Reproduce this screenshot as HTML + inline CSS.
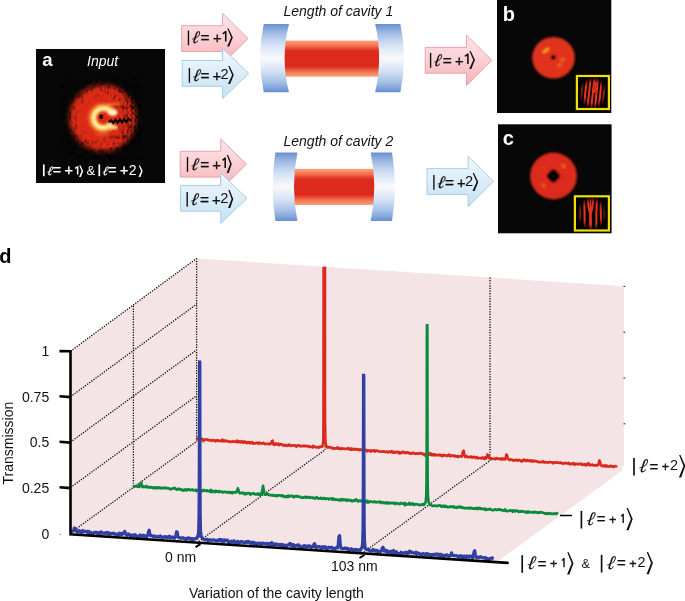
<!DOCTYPE html>
<html><head><meta charset="utf-8">
<style>
html,body{margin:0;padding:0;background:#fff;width:685px;height:601px;overflow:hidden}
svg{display:block;will-change:transform}
svg{font-family:"Liberation Sans",sans-serif}
</style></head>
<body>
<svg width="685" height="601" viewBox="0 0 685 601">

<defs>
  <linearGradient id="gPink" x1="0" y1="0" x2="0" y2="1">
    <stop offset="0" stop-color="#fee6e9"/><stop offset="0.5" stop-color="#fbcfd3"/><stop offset="1" stop-color="#f6b0b5"/>
  </linearGradient>
  <linearGradient id="gBlue" x1="0" y1="0" x2="0" y2="1">
    <stop offset="0" stop-color="#eef7fc"/><stop offset="0.5" stop-color="#dcedf8"/><stop offset="1" stop-color="#c4e1f2"/>
  </linearGradient>
  <linearGradient id="gMirror" x1="0" y1="0" x2="0" y2="1">
    <stop offset="0" stop-color="#6890cf"/><stop offset="0.14" stop-color="#a3bde6"/><stop offset="0.3" stop-color="#d3e0f4"/><stop offset="0.44" stop-color="#eef3fb"/><stop offset="0.5" stop-color="#f8f8f8"/><stop offset="0.56" stop-color="#eef3fb"/><stop offset="0.7" stop-color="#d3e0f4"/><stop offset="0.86" stop-color="#a3bde6"/><stop offset="1" stop-color="#6890cf"/>
  </linearGradient>
  <linearGradient id="gBeam" x1="0" y1="0" x2="0" y2="1">
    <stop offset="0" stop-color="#fda07a"/><stop offset="0.13" stop-color="#f37650"/><stop offset="0.29" stop-color="#dc2a1c"/><stop offset="0.71" stop-color="#dc2a1c"/><stop offset="0.87" stop-color="#f37650"/><stop offset="1" stop-color="#fda07a"/>
  </linearGradient>
  <radialGradient id="gBeamA" cx="0.5" cy="0.5" r="0.5">
    <stop offset="0" stop-color="#f03c1e"/><stop offset="0.6" stop-color="#e0301a"/><stop offset="0.85" stop-color="#9a1c0c"/><stop offset="1" stop-color="#070707"/>
  </radialGradient>
  <filter id="fBlur06" x="-20%" y="-20%" width="140%" height="140%"><feGaussianBlur stdDeviation="0.6"/></filter>
  <filter id="fBlur08" x="-20%" y="-20%" width="140%" height="140%"><feGaussianBlur stdDeviation="0.8"/></filter>
  <filter id="fBlur12" x="-20%" y="-20%" width="140%" height="140%"><feGaussianBlur stdDeviation="1.2"/></filter>
  <filter id="fBlur25" x="-30%" y="-30%" width="160%" height="160%"><feGaussianBlur stdDeviation="2.5"/></filter>
  <filter id="fBlur3" x="-30%" y="-30%" width="160%" height="160%"><feGaussianBlur stdDeviation="3"/></filter>
  <clipPath id="clipA"><rect x="36" y="49" width="129" height="134"/></clipPath>
  <clipPath id="clipIB"><rect x="578" y="77.1" width="29.8" height="30.8"/></clipPath>
  <clipPath id="clipIC"><rect x="576" y="197.4" width="31.8" height="32"/></clipPath>
  <radialGradient id="gEnv" cx="0.5" cy="0.5" r="0.5">
    <stop offset="0" stop-color="#fff"/><stop offset="0.65" stop-color="#fff"/><stop offset="1" stop-color="#000"/>
  </radialGradient>
  <mask id="mIB" maskUnits="userSpaceOnUse" x="570" y="70" width="45" height="45"><ellipse cx="593" cy="93" rx="14" ry="16" fill="url(#gEnv)"/></mask>
  <mask id="mIC" maskUnits="userSpaceOnUse" x="570" y="190" width="45" height="45"><ellipse cx="591.8" cy="213.5" rx="14.5" ry="17" fill="url(#gEnv)"/></mask>
  <linearGradient id="gFr" x1="117" y1="0" x2="131" y2="0" gradientUnits="userSpaceOnUse">
    <stop offset="0" stop-color="#000"/><stop offset="1" stop-color="#fff"/>
  </linearGradient>
  <mask id="mFr" maskUnits="userSpaceOnUse" x="36" y="49" width="129" height="134"><rect x="36" y="49" width="129" height="134" fill="url(#gFr)"/></mask>
  <filter id="fSpeck" x="0" y="0" width="100%" height="100%" filterUnits="objectBoundingBox">
    <feTurbulence type="fractalNoise" baseFrequency="0.32 0.2" numOctaves="2" seed="11" result="n"/>
    <feColorMatrix in="n" type="matrix" values="0 0 0 0 0  0 0 0 0 0  0 0 0 0 0  3.0 0 0 0 -1.5" result="a"/>
    <feComposite in="SourceGraphic" in2="a" operator="in"/>
  </filter>
  <radialGradient id="gSpk" cx="98" cy="118" r="40" gradientUnits="userSpaceOnUse">
    <stop offset="0" stop-color="#000"/><stop offset="0.4" stop-color="#000"/><stop offset="0.75" stop-color="#aaa"/><stop offset="1" stop-color="#fff"/>
  </radialGradient>
  <mask id="mSpeck" maskUnits="userSpaceOnUse" x="36" y="49" width="129" height="134"><rect x="36" y="49" width="129" height="134" fill="url(#gSpk)"/></mask>
  <filter id="fBlur1" x="-20%" y="-20%" width="140%" height="140%"><feGaussianBlur stdDeviation="0.8"/></filter>
  <filter id="fBlur2" x="-20%" y="-20%" width="140%" height="140%"><feGaussianBlur stdDeviation="1.5"/></filter>
</defs>
<polygon points="181.7,25.700000000000003 222.6,25.700000000000003 222.6,13.400000000000002 248.1,38.6 222.6,63.8 222.6,51.5 181.7,51.5" fill="url(#gPink)" stroke="#e79ca2" stroke-width="0.9" stroke-linejoin="miter"/>
<line x1="188.45" y1="30.50" x2="188.45" y2="45.30" stroke="#111" stroke-width="1.4"/>
<text transform="translate(191.18,43.23) skewX(-9)" style="font-family:&quot;Liberation Serif&quot;;font-style:italic" font-size="17.5" fill="#111" stroke="#111" stroke-width="0.15">&#8467;</text>
<text x="200.60" y="43.29" font-size="15.4" fill="#111" stroke="#111" stroke-width="0.35">=</text>
<text x="212.92" y="43.20" font-size="14.8" fill="#111" stroke="#111" stroke-width="0.35">+</text>
<path d="M225.75,41.50 L225.75,31.10 M226.05,31.40 L222.75,33.91" stroke="#111" stroke-width="1.6" fill="none"/>
<path d="M227.25,28.50 L228.55,28.50 L232.85,37.50 L229.15,46.50 L227.05,46.50 L231.15,37.50 Z" fill="#111"/>
<polygon points="182.2,60.50000000000001 222.6,60.50000000000001 222.6,48.2 248.7,73.4 222.6,98.60000000000001 222.6,86.30000000000001 182.2,86.30000000000001" fill="url(#gBlue)" stroke="#9fcbe3" stroke-width="0.9" stroke-linejoin="miter"/>
<line x1="189.4" y1="67.90" x2="189.4" y2="82.70" stroke="#111" stroke-width="1.4"/>
<text transform="translate(192.13,80.63) skewX(-9)" style="font-family:&quot;Liberation Serif&quot;;font-style:italic" font-size="17.5" fill="#111" stroke="#111" stroke-width="0.15">&#8467;</text>
<text x="200.55" y="80.69" font-size="15.4" fill="#111" stroke="#111" stroke-width="0.35">=</text>
<text x="212.47" y="80.60" font-size="14.8" fill="#111" stroke="#111" stroke-width="0.35">+</text>
<text x="220.57" y="78.90" font-size="14.6" fill="#111">2</text>
<path d="M228.20,65.90 L229.50,65.90 L233.80,74.90 L230.10,83.90 L228.00,83.90 L232.10,74.90 Z" fill="#111"/>
<polygon points="180.2,151.29999999999998 220.8,151.29999999999998 220.8,139.0 246.5,164.2 220.8,189.39999999999998 220.8,177.1 180.2,177.1" fill="url(#gPink)" stroke="#e79ca2" stroke-width="0.9" stroke-linejoin="miter"/>
<line x1="187.5" y1="157.00" x2="187.5" y2="171.80" stroke="#111" stroke-width="1.4"/>
<text transform="translate(190.53,169.72) skewX(-9)" style="font-family:&quot;Liberation Serif&quot;;font-style:italic" font-size="17.5" fill="#111" stroke="#111" stroke-width="0.15">&#8467;</text>
<text x="200.35" y="169.79" font-size="15.4" fill="#111" stroke="#111" stroke-width="0.35">=</text>
<text x="212.37" y="169.70" font-size="14.8" fill="#111" stroke="#111" stroke-width="0.35">+</text>
<path d="M225.20,168.00 L225.20,157.60 M225.50,157.90 L222.60,160.41" stroke="#111" stroke-width="1.6" fill="none"/>
<path d="M226.80,155.00 L228.10,155.00 L231.80,164.00 L228.70,173.00 L226.60,173.00 L230.10,164.00 Z" fill="#111"/>
<polygon points="180.5,185.4 220.8,185.4 220.8,173.10000000000002 247.0,198.3 220.8,223.5 220.8,211.20000000000002 180.5,211.20000000000002" fill="url(#gBlue)" stroke="#9fcbe3" stroke-width="0.9" stroke-linejoin="miter"/>
<line x1="187.2" y1="192.00" x2="187.2" y2="206.80" stroke="#111" stroke-width="1.4"/>
<text transform="translate(190.23,204.72) skewX(-9)" style="font-family:&quot;Liberation Serif&quot;;font-style:italic" font-size="17.5" fill="#111" stroke="#111" stroke-width="0.15">&#8467;</text>
<text x="200.05" y="204.79" font-size="15.4" fill="#111" stroke="#111" stroke-width="0.35">=</text>
<text x="212.07" y="204.70" font-size="14.8" fill="#111" stroke="#111" stroke-width="0.35">+</text>
<text x="220.27" y="203.00" font-size="14.6" fill="#111">2</text>
<path d="M228.30,190.00 L229.60,190.00 L233.30,199.00 L230.20,208.00 L228.10,208.00 L231.60,199.00 Z" fill="#111"/>
<polygon points="425.2,47.4 466.5,47.4 466.5,35.099999999999994 491.9,60.3 466.5,85.5 466.5,73.2 425.2,73.2" fill="url(#gPink)" stroke="#e79ca2" stroke-width="0.9" stroke-linejoin="miter"/>
<line x1="430.6" y1="52.90" x2="430.6" y2="67.70" stroke="#111" stroke-width="1.4"/>
<text transform="translate(433.33,65.62) skewX(-9)" style="font-family:&quot;Liberation Serif&quot;;font-style:italic" font-size="17.5" fill="#111" stroke="#111" stroke-width="0.15">&#8467;</text>
<text x="442.75" y="65.69" font-size="15.4" fill="#111" stroke="#111" stroke-width="0.35">=</text>
<text x="455.07" y="65.60" font-size="14.8" fill="#111" stroke="#111" stroke-width="0.35">+</text>
<path d="M467.90,63.90 L467.90,53.50 M468.20,53.80 L464.90,56.31" stroke="#111" stroke-width="1.6" fill="none"/>
<path d="M469.40,50.90 L470.70,50.90 L475.00,59.90 L471.30,68.90 L469.20,68.90 L473.30,59.90 Z" fill="#111"/>
<polygon points="427.0,168.6 468.1,168.6 468.1,156.3 493.4,181.5 468.1,206.7 468.1,194.4 427.0,194.4" fill="url(#gBlue)" stroke="#9fcbe3" stroke-width="0.9" stroke-linejoin="miter"/>
<line x1="433.9" y1="175.00" x2="433.9" y2="189.80" stroke="#111" stroke-width="1.4"/>
<text transform="translate(436.63,187.72) skewX(-9)" style="font-family:&quot;Liberation Serif&quot;;font-style:italic" font-size="17.5" fill="#111" stroke="#111" stroke-width="0.15">&#8467;</text>
<text x="445.05" y="187.79" font-size="15.4" fill="#111" stroke="#111" stroke-width="0.35">=</text>
<text x="456.97" y="187.70" font-size="14.8" fill="#111" stroke="#111" stroke-width="0.35">+</text>
<text x="465.07" y="186.00" font-size="14.6" fill="#111">2</text>
<path d="M472.70,173.00 L474.00,173.00 L478.30,182.00 L474.60,191.00 L472.50,191.00 L476.60,182.00 Z" fill="#111"/>
<rect x="282" y="40.6" width="100" height="36.1" fill="url(#gBeam)"/>
<path d="M263.7,24 L289.0,24 Q280.20000000000005,58.1 289.0,92.2 L263.7,92.2 Q256.50000000000006,58.1 263.7,24 Z" fill="url(#gMirror)"/>
<path d="M375.1,24 L400.4,24 Q407.6,58.1 400.4,92.2 L375.1,92.2 Q383.1,58.1 375.1,24 Z" fill="url(#gMirror)"/>
<rect x="292" y="168.9" width="85" height="36.099999999999994" fill="url(#gBeam)"/>
<path d="M275.3,152.5 L297.4,152.5 Q290.6,186.75 297.4,221 L275.3,221 Q270.09999999999997,186.75 275.3,152.5 Z" fill="url(#gMirror)"/>
<path d="M370.7,152.5 L392.0,152.5 Q398.0,186.75 392.0,221 L370.7,221 Q377.90000000000003,186.75 370.7,152.5 Z" fill="url(#gMirror)"/>
<text x="283.5" y="16.2" font-size="14" font-style="italic" fill="#111">Length of cavity 1</text>
<text x="283.5" y="145.8" font-size="14" font-style="italic" fill="#111">Length of cavity 2</text>
<rect x="36" y="49" width="129" height="134" fill="#070707"/>
<g filter="url(#fBlur25)"><circle cx="102.8" cy="118" r="33.5" fill="#dc2a18"/></g>
<g mask="url(#mSpeck)"><rect x="62" y="78" width="82" height="82" fill="#000" filter="url(#fSpeck)"/></g>
<g mask="url(#mFr)"><g filter="url(#fBlur06)"><polyline points="118.7,84.0 120.3,86.6 118.7,89.2 120.3,91.8 118.7,94.4 120.3,97.0 118.7,99.6 120.3,102.2 118.7,104.8 120.3,107.4 118.7,110.0 120.3,112.6 118.7,115.2 120.3,117.8 118.7,120.4 120.3,123.0 118.7,125.6 120.3,128.2 118.7,130.8 120.3,133.4 118.7,136.0 120.3,138.6 118.7,141.2 120.3,143.8 118.7,146.4 120.3,149.0 118.7,151.6" fill="none" stroke="#050505" stroke-width="1.3" opacity="0.4"/><polyline points="122.7,84.0 124.3,86.6 122.7,89.2 124.3,91.8 122.7,94.4 124.3,97.0 122.7,99.6 124.3,102.2 122.7,104.8 124.3,107.4 122.7,110.0 124.3,112.6 122.7,115.2 124.3,117.8 122.7,120.4 124.3,123.0 122.7,125.6 124.3,128.2 122.7,130.8 124.3,133.4 122.7,136.0 124.3,138.6 122.7,141.2 124.3,143.8 122.7,146.4 124.3,149.0 122.7,151.6" fill="none" stroke="#050505" stroke-width="1.3" opacity="0.4"/><polyline points="126.7,84.0 128.3,86.6 126.7,89.2 128.3,91.8 126.7,94.4 128.3,97.0 126.7,99.6 128.3,102.2 126.7,104.8 128.3,107.4 126.7,110.0 128.3,112.6 126.7,115.2 128.3,117.8 126.7,120.4 128.3,123.0 126.7,125.6 128.3,128.2 126.7,130.8 128.3,133.4 126.7,136.0 128.3,138.6 126.7,141.2 128.3,143.8 126.7,146.4 128.3,149.0 126.7,151.6" fill="none" stroke="#050505" stroke-width="1.3" opacity="0.4"/><polyline points="130.7,84.0 132.3,86.6 130.7,89.2 132.3,91.8 130.7,94.4 132.3,97.0 130.7,99.6 132.3,102.2 130.7,104.8 132.3,107.4 130.7,110.0 132.3,112.6 130.7,115.2 132.3,117.8 130.7,120.4 132.3,123.0 130.7,125.6 132.3,128.2 130.7,130.8 132.3,133.4 130.7,136.0 132.3,138.6 130.7,141.2 132.3,143.8 130.7,146.4 132.3,149.0 130.7,151.6" fill="none" stroke="#050505" stroke-width="1.3" opacity="0.4"/><polyline points="134.7,84.0 136.3,86.6 134.7,89.2 136.3,91.8 134.7,94.4 136.3,97.0 134.7,99.6 136.3,102.2 134.7,104.8 136.3,107.4 134.7,110.0 136.3,112.6 134.7,115.2 136.3,117.8 134.7,120.4 136.3,123.0 134.7,125.6 136.3,128.2 134.7,130.8 136.3,133.4 134.7,136.0 136.3,138.6 134.7,141.2 136.3,143.8 134.7,146.4 136.3,149.0 134.7,151.6" fill="none" stroke="#050505" stroke-width="1.3" opacity="0.4"/><polyline points="138.7,84.0 140.3,86.6 138.7,89.2 140.3,91.8 138.7,94.4 140.3,97.0 138.7,99.6 140.3,102.2 138.7,104.8 140.3,107.4 138.7,110.0 140.3,112.6 138.7,115.2 140.3,117.8 138.7,120.4 140.3,123.0 138.7,125.6 140.3,128.2 138.7,130.8 140.3,133.4 138.7,136.0 140.3,138.6 138.7,141.2 140.3,143.8 138.7,146.4 140.3,149.0 138.7,151.6" fill="none" stroke="#050505" stroke-width="1.3" opacity="0.4"/></g></g>
<g filter="url(#fBlur1)" opacity="0.45"><path d="M78,98 Q88,86 106,84" fill="none" stroke="#000" stroke-width="1.5"/><path d="M72,128 Q77,144 94,151" fill="none" stroke="#000" stroke-width="1.5"/><path d="M98,149 Q112,152 124,146" fill="none" stroke="#000" stroke-width="1.3"/></g>
<g filter="url(#fBlur08)"><path d="M111.5,111.4 A10.8,10.8 0 1 0 111.5,124.6" fill="none" stroke="#f4782a" stroke-width="9" opacity="0.7"/><path d="M111.5,112.4 A9.8,9.8 0 1 0 111.5,123.6" fill="none" stroke="#fbb640" stroke-width="6.2"/><path d="M111.5,112.4 A9.8,9.8 0 1 0 111.5,123.6" fill="none" stroke="#fff0a8" stroke-width="3"/><ellipse cx="112.8" cy="112.6" rx="4.6" ry="3.3" fill="#fff2c0"/><path d="M110,127.6 L117.5,127.2" stroke="#ffe08a" stroke-width="3.4"/><path d="M108,104.3 L119.5,104.3" stroke="#f8c050" stroke-width="1.5" stroke-dasharray="2,1.2"/><path d="M96,134.7 L109,134.7" stroke="#f7b860" stroke-width="1.2" stroke-dasharray="1.5,1.2" opacity="0.8"/></g>
<g filter="url(#fBlur06)"><ellipse cx="101.2" cy="116.7" rx="2" ry="2.2" fill="#000"/><path d="M108.7,122.2 L111,120.4 L113.2,122.8 L115.4,119.8 L117.6,122.6 L119.8,119.4 L122,122.4 L124.2,119.2 L126.4,122.2 L128.6,119 L131.8,120.8" fill="none" stroke="#0a0000" stroke-width="2.2"/></g>
<text x="42.3" y="66.4" font-size="18.5" font-weight="bold" fill="#fff">a</text>
<text x="87" y="65.5" font-size="14" font-style="italic" fill="#fff">Input</text>
<line x1="43.8" y1="164.40" x2="43.8" y2="176.20" stroke="#fff" stroke-width="1.7"/>
<text transform="translate(46.73,174.67) skewX(-9)" style="font-family:&quot;Liberation Serif&quot;;font-style:italic" font-size="12.8" fill="#fff" stroke="#fff" stroke-width="0.15">&#8467;</text>
<text x="52.70" y="175.49" font-size="14.2" fill="#fff" stroke="#fff" stroke-width="0.35">=</text>
<text x="64.39" y="175.47" font-size="14.4" fill="#fff" stroke="#fff" stroke-width="0.35">+</text>
<path d="M77.65,174.60 L77.65,166.20 M77.95,166.50 L75.10,168.47" stroke="#fff" stroke-width="1.5" fill="none"/>
<path d="M79.20,165.40 L80.50,165.40 L83.20,171.00 L80.90,176.90 L79.00,176.90 L81.60,171.00 Z" fill="#fff"/>
<text x="86.5" y="174.6" font-size="13" fill="#fff">&amp;</text>
<line x1="99.3" y1="164.40" x2="99.3" y2="176.20" stroke="#fff" stroke-width="1.7"/>
<text transform="translate(102.23,174.67) skewX(-9)" style="font-family:&quot;Liberation Serif&quot;;font-style:italic" font-size="12.8" fill="#fff" stroke="#fff" stroke-width="0.15">&#8467;</text>
<text x="108.20" y="175.49" font-size="14.2" fill="#fff" stroke="#fff" stroke-width="0.35">=</text>
<text x="119.89" y="175.47" font-size="14.4" fill="#fff" stroke="#fff" stroke-width="0.35">+</text>
<text x="128.80" y="174.60" font-size="14" fill="#fff">2</text>
<path d="M138.70,165.40 L140.00,165.40 L142.70,171.00 L140.40,176.90 L138.50,176.90 L141.10,171.00 Z" fill="#fff"/>
<rect x="497" y="0" width="114.3" height="113" fill="#070707"/>
<g filter="url(#fBlur12)"><ellipse cx="553.5" cy="57.7" rx="21.3" ry="20.8" fill="#e0301e"/></g>
<g filter="url(#fBlur1)"><ellipse cx="546" cy="50.5" rx="4.2" ry="2.2" transform="rotate(-35 546 50.5)" fill="#f6a21c" opacity="0.85"/><ellipse cx="562.5" cy="59.8" rx="2.6" ry="2" fill="#f07a1a" opacity="0.8"/><ellipse cx="559.5" cy="65" rx="3" ry="1.8" transform="rotate(-30 559.5 65)" fill="#f07a1a" opacity="0.7"/><ellipse cx="553.3" cy="57.4" rx="2.3" ry="1.8" transform="rotate(-30 553.3 57.4)" fill="#000"/></g>
<text x="502.8" y="20.8" font-size="20" font-weight="bold" fill="#fff">b</text>
<rect x="576.9" y="76" width="32" height="33" fill="#000" stroke="#f2e000" stroke-width="2.2"/>
<g clip-path="url(#clipIB)" mask="url(#mIB)"><g filter="url(#fBlur06)"><line x1="576.20" y1="108" x2="579.40" y2="78" stroke="#e8301e" stroke-width="2.1"/><line x1="579.95" y1="108" x2="583.15" y2="78" stroke="#e8301e" stroke-width="2.1"/><line x1="583.70" y1="108" x2="586.90" y2="78" stroke="#e8301e" stroke-width="2.1"/><line x1="587.45" y1="108" x2="590.65" y2="78" stroke="#e8301e" stroke-width="2.1"/><line x1="591.20" y1="108" x2="594.40" y2="78" stroke="#e8301e" stroke-width="2.1"/><line x1="594.95" y1="108" x2="598.15" y2="78" stroke="#e8301e" stroke-width="2.1"/><line x1="598.70" y1="108" x2="601.90" y2="78" stroke="#e8301e" stroke-width="2.1"/><line x1="602.45" y1="108" x2="605.65" y2="78" stroke="#e8301e" stroke-width="2.1"/><line x1="606.20" y1="108" x2="609.40" y2="78" stroke="#e8301e" stroke-width="2.1"/><line x1="594.6" y1="93" x2="596.5" y2="78" stroke="#e8301e" stroke-width="1.8"/></g></g>
<rect x="498" y="124.3" width="113.6" height="109" fill="#070707"/>
<g filter="url(#fBlur12)"><circle cx="553.5" cy="176" r="23.4" fill="#dc2c1c"/></g>
<g filter="url(#fBlur1)"><ellipse cx="563.5" cy="166" rx="2.8" ry="2" transform="rotate(40 563.5 166)" fill="#f06a18" opacity="0.8"/><ellipse cx="543.5" cy="185.5" rx="3" ry="1.8" transform="rotate(40 543.5 185.5)" fill="#f06a18" opacity="0.7"/><ellipse cx="543" cy="168" rx="1.8" ry="1.2" fill="#f05a18" opacity="0.5"/><path d="M553.4,169.6 Q554.6,169.6 559.2,174.8 Q560.4,176 559.2,177.2 Q554.6,182.4 553.4,182.4 Q552.2,182.4 547.6,177.2 Q546.4,176 547.6,174.8 Q552.2,169.6 553.4,169.6 Z" fill="#000"/></g>
<text x="502.8" y="144.8" font-size="20" font-weight="bold" fill="#fff">c</text>
<rect x="574.9" y="196.3" width="34" height="34.2" fill="#000" stroke="#f2e000" stroke-width="2.2"/>
<g clip-path="url(#clipIC)" mask="url(#mIC)"><g filter="url(#fBlur06)"><path d="M580,197 Q580.35,213 579.5,230" fill="none" stroke="#e2301e" stroke-width="2.1"/><path d="M584,197 Q584.90,213 584.6,230" fill="none" stroke="#e2301e" stroke-width="2.1"/><path d="M597,197 Q596.10,213 596.4,230" fill="none" stroke="#e2301e" stroke-width="2.1"/><path d="M600.8,197 Q600.50,213 601.4,230" fill="none" stroke="#e2301e" stroke-width="2.1"/><path d="M604.5,197 Q604.15,213 605,230" fill="none" stroke="#e2301e" stroke-width="2.1"/><path d="M590.5,230 L590.5,214" fill="none" stroke="#e2301e" stroke-width="2.8"/><path d="M587.6,197 Q588,208 590.5,215 M590.5,197 L590.5,215 M593.4,197 Q593,208 590.5,215" fill="none" stroke="#e2301e" stroke-width="1.9"/></g></g>
<polygon points="70.4,351.3 196.6,258.4 624,286.25 624,465.8 622.2,465.8 622.2,470.6 497.8,561.2 70.4,533.5" fill="#f4e4e5"/>
<line x1="70.4" y1="351.30" x2="196.6" y2="258.40" stroke="#000" stroke-width="1.3" stroke-dasharray="1.2,1.4" fill="none"/>
<line x1="70.4" y1="396.73" x2="196.6" y2="304.18" stroke="#000" stroke-width="1.3" stroke-dasharray="1.2,1.4" fill="none"/>
<line x1="70.4" y1="442.15" x2="196.6" y2="349.95" stroke="#000" stroke-width="1.3" stroke-dasharray="1.2,1.4" fill="none"/>
<line x1="70.4" y1="487.57" x2="196.6" y2="395.73" stroke="#000" stroke-width="1.3" stroke-dasharray="1.2,1.4" fill="none"/>
<line x1="70.4" y1="533.00" x2="196.6" y2="441.50" stroke="#000" stroke-width="1.3" stroke-dasharray="1.2,1.4" fill="none"/>
<line x1="133.4" y1="305.85" x2="133.4" y2="488.25" stroke="#000" stroke-width="1.3" stroke-dasharray="1.2,1.4" fill="none"/>
<line x1="196.6" y1="258.40" x2="196.6" y2="441.50" stroke="#000" stroke-width="1.3" stroke-dasharray="1.2,1.4" fill="none"/>
<line x1="198.80" y1="541.37" x2="325.00" y2="449.87" stroke="#000" stroke-width="1.3" stroke-dasharray="1.2,1.4" fill="none"/>
<line x1="325.00" y1="449.87" x2="325.00" y2="266.77" stroke="#000" stroke-width="1.3" stroke-dasharray="1.2,1.4" fill="none"/>
<line x1="363.80" y1="552.13" x2="490.00" y2="460.63" stroke="#000" stroke-width="1.3" stroke-dasharray="1.2,1.4" fill="none"/>
<line x1="490.00" y1="460.63" x2="490.00" y2="277.53" stroke="#000" stroke-width="1.3" stroke-dasharray="1.2,1.4" fill="none"/>
<line x1="623.5" y1="286.40" x2="625.3" y2="286.40" stroke="#333" stroke-width="1.1"/>
<line x1="623.5" y1="332.20" x2="625.3" y2="332.20" stroke="#333" stroke-width="1.1"/>
<line x1="623.5" y1="378.00" x2="625.3" y2="378.00" stroke="#333" stroke-width="1.1"/>
<line x1="623.5" y1="423.80" x2="625.3" y2="423.80" stroke="#333" stroke-width="1.1"/>
<polyline points="197.00,440.14 197.70,438.12 198.40,439.51 199.10,439.11 199.80,439.20 200.50,439.36 201.20,438.59 201.90,439.44 202.60,439.20 203.30,441.13 204.00,439.78 204.70,439.57 205.40,439.65 206.10,439.52 206.80,439.39 207.50,439.73 208.20,440.17 208.90,439.89 209.60,440.48 210.30,440.00 211.00,440.15 211.70,440.88 212.40,440.47 213.10,440.05 213.80,440.24 214.50,440.61 215.20,441.28 215.90,440.34 216.60,440.39 217.30,441.00 218.00,440.20 218.70,440.51 219.40,441.08 220.10,440.99 220.80,440.82 221.50,441.12 222.20,439.60 222.90,441.37 223.60,440.53 224.30,440.25 225.00,441.18 225.70,441.41 226.40,440.94 227.10,440.70 227.80,441.25 228.50,441.26 229.20,441.96 229.90,441.71 230.60,441.50 231.30,441.96 232.00,441.41 232.70,441.14 233.40,441.86 234.10,441.91 234.80,441.59 235.50,441.38 236.20,441.88 236.90,440.70 237.60,442.18 238.30,442.14 239.00,441.23 239.70,442.04 240.40,441.62 241.10,442.44 241.80,441.23 242.50,441.78 243.20,442.56 243.90,442.80 244.60,441.36 245.30,442.15 246.00,442.57 246.70,442.19 247.40,443.23 248.10,442.02 248.80,442.76 249.50,442.18 250.20,443.33 250.90,442.73 251.60,442.62 252.30,442.06 253.00,443.63 253.70,443.26 254.40,443.31 255.10,443.52 255.80,443.22 256.50,442.82 257.20,442.79 257.90,442.84 258.60,443.86 259.30,442.63 260.00,443.06 260.70,443.23 261.40,443.52 262.10,443.73 262.80,442.95 263.50,442.78 264.20,443.60 264.90,444.20 265.60,444.04 266.30,443.84 267.00,443.65 267.70,443.97 268.40,443.77 269.10,444.29 269.80,443.61 270.50,444.00 271.20,443.11 271.90,441.07 272.60,440.67 273.30,444.18 274.00,444.81 274.70,444.96 275.40,443.42 276.10,444.23 276.80,444.15 277.50,444.71 278.20,443.49 278.90,445.09 279.60,445.09 280.30,444.07 281.00,444.26 281.70,444.38 282.40,444.81 283.10,445.12 283.80,445.80 284.50,444.84 285.20,445.32 285.90,445.09 286.60,445.85 287.30,445.44 288.00,445.77 288.70,444.71 289.40,445.16 290.10,444.92 290.80,446.01 291.50,445.68 292.20,445.29 292.90,445.27 293.60,445.73 294.30,445.25 295.00,445.19 295.70,445.87 296.40,446.81 297.10,445.63 297.80,445.54 298.50,445.31 299.20,445.28 299.90,446.16 300.60,446.35 301.30,446.02 302.00,446.21 302.70,446.15 303.40,446.21 304.10,445.50 304.80,446.03 305.50,446.33 306.20,445.97 306.90,446.15 307.60,446.04 308.30,446.30 309.00,446.88 309.70,446.36 310.40,446.51 311.10,446.99 311.80,446.96 312.50,447.47 313.20,445.80 313.90,447.17 314.60,446.60 315.30,446.91 316.00,447.26 316.70,447.39 317.40,447.39 318.10,447.01 318.80,447.65 319.50,446.77 320.20,446.77 320.90,447.05 321.60,446.12 322.30,446.59 322.80,444.75 323.40,440.00 323.80,422.73 324.05,377.32 324.30,268.18 324.55,377.85 324.80,422.55 325.20,439.31 325.80,444.48 326.50,446.93 327.20,446.57 327.90,447.68 328.60,447.13 329.30,447.13 330.00,447.36 330.70,447.23 331.40,447.91 332.10,448.38 332.80,448.05 333.50,448.32 334.20,448.83 334.90,448.27 335.60,448.29 336.30,448.13 337.00,447.59 337.70,448.70 338.40,447.62 339.10,448.75 339.80,448.50 340.50,449.06 341.20,448.57 341.90,448.28 342.60,448.86 343.30,448.49 344.00,448.71 344.70,448.86 345.40,448.83 346.10,448.85 346.80,448.60 347.50,448.94 348.20,448.11 348.90,449.05 349.60,448.63 350.30,449.71 351.00,449.83 351.70,448.42 352.40,449.41 353.10,449.34 353.80,448.97 354.50,449.73 355.20,449.33 355.90,448.78 356.60,449.51 357.30,449.60 358.00,449.76 358.70,449.21 359.40,450.09 360.10,450.19 360.80,449.38 361.50,449.65 362.20,449.96 362.90,449.78 363.60,450.87 364.30,450.22 365.00,449.72 365.70,449.87 366.40,450.24 367.10,451.35 367.80,450.28 368.50,450.46 369.20,450.68 369.90,450.48 370.60,451.57 371.30,450.35 372.00,450.97 372.70,450.75 373.40,451.00 374.10,450.24 374.80,451.61 375.50,450.81 376.20,450.92 376.90,450.53 377.60,450.67 378.30,451.30 379.00,451.53 379.70,451.47 380.40,451.73 381.10,451.55 381.80,451.29 382.50,451.69 383.20,451.63 383.90,451.36 384.60,451.78 385.30,452.08 386.00,451.65 386.70,451.43 387.40,451.96 388.10,452.54 388.80,451.63 389.50,451.73 390.20,451.76 390.90,452.42 391.60,451.09 392.30,452.12 393.00,452.54 393.70,451.68 394.40,452.77 395.10,452.38 395.80,451.94 396.50,452.32 397.20,451.59 397.90,452.07 398.60,453.19 399.30,452.01 400.00,453.29 400.70,452.47 401.40,453.00 402.10,452.62 402.80,451.63 403.50,452.43 404.20,452.82 404.90,452.26 405.60,452.22 406.30,453.04 407.00,452.62 407.70,452.20 408.40,452.70 409.10,453.44 409.80,452.89 410.50,453.57 411.20,453.88 411.90,453.25 412.60,452.77 413.30,452.74 414.00,453.36 414.70,453.82 415.40,453.59 416.10,453.76 416.80,453.36 417.50,453.74 418.20,453.44 418.90,453.55 419.60,453.16 420.30,453.08 421.00,453.61 421.70,453.38 422.40,453.49 423.10,454.27 423.80,453.96 424.50,455.37 425.20,454.52 425.90,453.86 426.60,454.55 427.30,454.40 428.00,453.98 428.70,454.83 429.40,454.03 430.10,453.05 430.80,454.83 431.50,454.24 432.20,455.23 432.90,454.31 433.60,454.12 434.30,455.39 435.00,454.26 435.70,454.88 436.40,455.49 437.10,454.93 437.80,454.89 438.50,455.02 439.20,455.39 439.90,454.70 440.60,455.38 441.30,455.41 442.00,456.25 442.70,455.09 443.40,454.88 444.10,455.67 444.80,455.20 445.50,455.56 446.20,455.53 446.90,456.04 447.60,455.27 448.30,455.57 449.00,454.51 449.70,455.30 450.40,456.44 451.10,455.49 451.80,455.52 452.50,455.34 453.20,456.19 453.90,456.06 454.60,455.49 455.30,456.37 456.00,456.23 456.70,456.50 457.40,455.92 458.10,457.03 458.80,456.48 459.50,456.29 460.20,456.15 460.90,456.32 461.60,456.74 462.30,454.83 463.00,451.31 463.70,450.61 464.40,455.23 465.10,456.87 465.80,456.72 466.50,455.94 467.20,456.98 467.90,457.24 468.60,457.01 469.30,457.23 470.00,456.81 470.70,456.90 471.40,456.69 472.10,457.78 472.80,457.28 473.50,457.03 474.20,456.70 474.90,457.28 475.60,458.04 476.30,457.64 477.00,457.16 477.70,458.17 478.40,458.22 479.10,458.06 479.80,458.02 480.50,458.23 481.20,458.00 481.90,458.15 482.60,457.50 483.30,458.57 484.00,458.04 484.70,458.89 485.40,457.11 486.10,458.28 486.80,457.40 487.50,454.43 488.20,455.13 488.90,457.70 489.60,458.49 490.30,458.10 491.00,458.33 491.70,458.90 492.40,459.06 493.10,458.58 493.80,458.61 494.50,458.71 495.20,459.14 495.90,458.24 496.60,458.16 497.30,458.86 498.00,458.35 498.70,458.63 499.40,458.98 500.10,459.21 500.80,458.55 501.50,459.44 502.20,458.33 502.90,459.42 503.60,458.51 504.30,458.68 505.00,459.46 505.70,457.72 506.40,454.57 507.10,455.14 507.80,458.58 508.50,459.42 509.20,459.57 509.90,460.10 510.60,459.35 511.30,459.51 512.00,459.53 512.70,460.34 513.40,460.30 514.10,460.48 514.80,459.93 515.50,459.92 516.20,460.42 516.90,459.91 517.60,460.50 518.30,460.50 519.00,459.91 519.70,460.23 520.40,460.26 521.10,461.14 521.80,461.57 522.50,460.40 523.20,460.50 523.90,459.51 524.60,460.68 525.30,460.63 526.00,460.19 526.70,461.08 527.40,460.06 528.10,460.72 528.80,460.92 529.50,460.34 530.20,461.34 530.90,461.47 531.60,460.42 532.30,460.45 533.00,461.40 533.70,461.17 534.40,460.68 535.10,461.14 535.80,461.27 536.50,461.30 537.20,461.78 537.90,461.63 538.60,462.29 539.30,462.16 540.00,461.89 540.70,462.12 541.40,462.28 542.10,462.04 542.80,461.22 543.50,462.20 544.20,461.90 544.90,462.64 545.60,462.00 546.30,462.24 547.00,462.19 547.70,462.85 548.40,462.22 549.10,462.06 549.80,462.37 550.50,462.08 551.20,462.39 551.90,462.36 552.60,462.53 553.30,463.32 554.00,462.32 554.70,462.56 555.40,462.50 556.10,462.94 556.80,462.15 557.50,462.42 558.20,462.76 558.90,463.07 559.60,462.85 560.30,462.69 561.00,462.57 561.70,463.23 562.40,463.70 563.10,463.24 563.80,463.23 564.50,463.39 565.20,462.81 565.90,463.14 566.60,463.20 567.30,463.50 568.00,463.40 568.70,462.91 569.40,464.01 570.10,464.31 570.80,463.48 571.50,463.82 572.20,463.81 572.90,464.09 573.60,463.11 574.30,464.55 575.00,463.66 575.70,464.49 576.40,464.00 577.10,463.83 577.80,463.99 578.50,464.50 579.20,463.76 579.90,464.02 580.60,464.02 581.30,463.51 582.00,464.91 582.70,464.63 583.40,464.41 584.10,464.99 584.80,464.08 585.50,464.52 586.20,465.38 586.90,465.09 587.60,463.69 588.30,463.24 589.00,464.32 589.70,465.31 590.40,464.66 591.10,464.82 591.80,465.24 592.50,464.61 593.20,465.15 593.90,465.46 594.60,465.36 595.30,465.37 596.00,464.97 596.70,465.52 597.40,465.08 598.10,465.12 598.80,462.91 599.50,460.38 600.20,462.70 600.90,465.16 601.60,465.77 602.30,466.12 603.00,466.18 603.70,465.39 604.40,465.43 605.10,466.40 605.80,465.39 606.50,466.42 607.20,465.87 607.90,466.36 608.60,466.38 609.30,466.46 610.00,466.52 610.70,465.75 611.40,466.38 612.10,466.30 612.80,466.47 613.50,466.94 614.20,466.31 614.90,466.15 615.60,466.19 616.30,466.42 617.00,466.95" fill="none" stroke="#d92a1e" stroke-width="2.6" stroke-linejoin="round" stroke-linecap="butt"/>
<line x1="324.3" y1="266.8" x2="324.3" y2="443.52603999999997" stroke="#d92a1e" stroke-width="4.0"/>
<polyline points="133.50,485.79 134.20,486.72 134.90,486.38 135.60,486.19 136.30,485.74 137.00,486.49 137.70,486.74 138.40,485.68 139.10,487.01 139.80,486.55 140.50,483.46 141.20,482.60 141.90,486.13 142.60,487.11 143.30,486.38 144.00,486.83 144.70,486.82 145.40,486.86 146.10,485.91 146.80,487.36 147.50,486.78 148.20,487.19 148.90,487.10 149.60,487.60 150.30,487.12 151.00,486.94 151.70,487.58 152.40,488.02 153.10,487.29 153.80,488.10 154.50,487.64 155.20,487.33 155.90,488.30 156.60,487.29 157.30,488.16 158.00,487.53 158.70,488.00 159.40,487.29 160.10,487.51 160.80,488.42 161.50,488.07 162.20,488.04 162.90,487.88 163.60,488.32 164.30,487.54 165.00,487.71 165.70,488.18 166.40,487.93 167.10,488.03 167.80,488.36 168.50,488.38 169.20,488.38 169.90,489.28 170.60,489.03 171.30,489.17 172.00,488.65 172.70,488.49 173.40,488.10 174.10,488.65 174.80,487.91 175.50,488.63 176.20,489.28 176.90,489.72 177.60,489.47 178.30,488.69 179.00,489.34 179.70,488.81 180.40,489.58 181.10,489.21 181.80,489.69 182.50,490.51 183.20,489.81 183.90,490.49 184.60,489.57 185.30,489.39 186.00,490.18 186.70,490.40 187.40,489.42 188.10,489.75 188.80,489.12 189.50,489.72 190.20,490.25 190.90,489.86 191.60,489.69 192.30,489.36 193.00,490.20 193.70,490.44 194.40,490.40 195.10,490.29 195.80,489.65 196.50,491.06 197.20,490.28 197.90,490.29 198.60,490.73 199.30,489.47 200.00,490.46 200.70,490.48 201.40,490.75 202.10,491.24 202.80,490.89 203.50,489.90 204.20,490.61 204.90,490.90 205.60,490.92 206.30,490.33 207.00,490.20 207.70,491.24 208.40,491.19 209.10,491.08 209.80,490.35 210.50,491.98 211.20,489.92 211.90,491.10 212.60,492.25 213.30,491.29 214.00,491.51 214.70,490.92 215.40,492.11 216.10,490.96 216.80,491.70 217.50,491.69 218.20,491.21 218.90,492.12 219.60,491.13 220.30,491.51 221.00,491.85 221.70,491.72 222.40,492.16 223.10,492.41 223.80,491.91 224.50,491.85 225.20,491.90 225.90,492.02 226.60,492.59 227.30,492.17 228.00,492.50 228.70,492.32 229.40,492.03 230.10,492.84 230.80,492.03 231.50,492.55 232.20,493.26 232.90,492.15 233.60,492.66 234.30,492.02 235.00,492.54 235.70,492.14 236.40,492.49 237.10,490.83 237.80,488.26 238.50,490.04 239.20,492.33 239.90,493.33 240.60,493.12 241.30,493.07 242.00,492.86 242.70,492.47 243.40,493.35 244.10,494.10 244.80,493.63 245.50,493.22 246.20,494.25 246.90,493.36 247.60,493.32 248.30,493.10 249.00,493.25 249.70,493.62 250.40,494.68 251.10,493.73 251.80,493.41 252.50,493.64 253.20,493.86 253.90,493.24 254.60,494.11 255.30,494.41 256.00,494.29 256.70,494.46 257.40,493.65 258.10,493.52 258.80,494.90 259.50,494.86 260.20,493.72 260.90,494.52 261.60,493.72 262.30,489.88 263.00,485.69 263.70,489.50 264.40,493.98 265.10,494.77 265.80,494.76 266.50,493.99 267.20,493.53 267.90,494.56 268.60,494.23 269.30,495.12 270.00,495.38 270.70,495.22 271.40,494.98 272.10,495.22 272.80,495.76 273.50,494.96 274.20,495.74 274.90,495.69 275.60,495.54 276.30,496.12 277.00,495.19 277.70,495.98 278.40,495.19 279.10,495.30 279.80,495.22 280.50,495.94 281.20,495.36 281.90,495.86 282.60,495.37 283.30,496.40 284.00,496.80 284.70,496.12 285.40,496.80 286.10,496.36 286.80,497.13 287.50,496.24 288.20,495.54 288.90,496.96 289.60,496.28 290.30,495.91 291.00,496.13 291.70,495.74 292.40,496.44 293.10,496.08 293.80,497.28 294.50,496.95 295.20,495.95 295.90,496.07 296.60,496.54 297.30,495.97 298.00,496.83 298.70,496.91 299.40,496.62 300.10,496.77 300.80,497.29 301.50,497.75 302.20,497.83 302.90,497.22 303.60,497.63 304.30,496.96 305.00,497.52 305.70,496.95 306.40,497.76 307.10,496.92 307.80,497.09 308.50,497.56 309.20,497.86 309.90,497.01 310.60,497.46 311.30,497.81 312.00,497.90 312.70,497.46 313.40,497.93 314.10,497.81 314.80,498.61 315.50,498.27 316.20,497.47 316.90,497.12 317.60,498.20 318.30,498.74 319.00,498.33 319.70,498.69 320.40,498.12 321.10,497.77 321.80,498.77 322.50,498.52 323.20,498.83 323.90,497.95 324.60,498.70 325.30,498.38 326.00,499.07 326.70,498.49 327.40,498.52 328.10,498.58 328.80,499.46 329.50,498.95 330.20,498.64 330.90,498.57 331.60,498.60 332.30,499.78 333.00,498.35 333.70,498.83 334.40,499.54 335.10,499.83 335.80,499.28 336.50,499.74 337.20,499.78 337.90,499.93 338.60,499.55 339.30,500.32 340.00,499.72 340.70,500.36 341.40,499.22 342.10,500.19 342.80,499.25 343.50,499.18 344.20,500.13 344.90,499.58 345.60,500.20 346.30,499.56 347.00,500.81 347.70,500.14 348.40,499.67 349.10,500.31 349.80,500.67 350.50,499.98 351.20,500.60 351.90,501.34 352.60,500.85 353.30,500.50 354.00,500.30 354.70,500.86 355.40,499.96 356.10,499.32 356.80,500.44 357.50,500.30 358.20,501.62 358.90,500.94 359.60,500.48 360.30,500.44 361.00,501.24 361.70,500.69 362.40,500.84 363.10,501.11 363.80,501.24 364.50,501.29 365.20,501.34 365.90,501.92 366.60,502.15 367.30,500.69 368.00,502.63 368.70,501.58 369.40,502.13 370.10,501.28 370.80,501.80 371.50,501.80 372.20,501.80 372.90,502.18 373.60,502.13 374.30,501.43 375.00,501.88 375.70,502.31 376.40,502.33 377.10,501.92 377.80,501.99 378.50,502.09 379.20,501.71 379.90,501.67 380.60,503.00 381.30,502.17 382.00,502.43 382.70,502.10 383.40,503.06 384.10,503.31 384.80,502.47 385.50,502.85 386.20,502.32 386.90,503.50 387.60,503.17 388.30,502.42 389.00,503.41 389.70,503.05 390.40,503.12 391.10,503.14 391.80,502.72 392.50,502.83 393.20,503.40 393.90,503.14 394.60,502.78 395.30,504.17 396.00,503.20 396.70,503.09 397.40,503.07 398.10,503.74 398.80,503.92 399.50,503.63 400.20,503.96 400.90,502.94 401.60,503.49 402.30,503.49 403.00,503.75 403.70,504.01 404.40,502.92 405.10,505.29 405.80,503.53 406.50,504.12 407.20,504.38 407.90,504.44 408.60,504.21 409.30,502.83 410.00,503.70 410.70,504.57 411.40,503.86 412.10,503.84 412.80,503.29 413.50,504.94 414.20,504.67 414.90,504.07 415.60,504.45 416.30,504.51 417.00,504.08 417.70,504.50 418.40,504.77 419.10,504.93 419.80,505.27 420.50,504.73 421.20,504.51 421.90,504.89 422.60,504.38 423.30,504.00 424.00,504.88 424.70,503.74 425.40,502.79 425.60,502.36 426.20,496.28 426.60,480.74 426.85,435.25 427.10,325.26 427.35,435.26 427.60,480.17 428.00,495.90 428.60,502.13 428.90,502.82 429.60,504.72 430.30,504.93 431.00,504.85 431.70,505.29 432.40,506.01 433.10,506.01 433.80,505.75 434.50,505.85 435.20,505.60 435.90,505.73 436.60,506.11 437.30,505.85 438.00,506.09 438.70,505.51 439.40,505.31 440.10,505.35 440.80,505.96 441.50,506.81 442.20,506.79 442.90,505.86 443.60,505.66 444.30,506.76 445.00,506.66 445.70,505.88 446.40,507.02 447.10,506.67 447.80,507.23 448.50,506.84 449.20,507.13 449.90,506.92 450.60,506.40 451.30,506.77 452.00,506.61 452.70,507.34 453.40,506.56 454.10,506.37 454.80,507.41 455.50,507.66 456.20,507.85 456.90,507.73 457.60,506.61 458.30,507.02 459.00,507.13 459.70,507.41 460.40,506.50 461.10,507.51 461.80,507.69 462.50,507.18 463.20,507.71 463.90,508.23 464.60,507.77 465.30,508.27 466.00,508.29 466.70,508.07 467.40,508.10 468.10,507.81 468.80,508.58 469.50,507.85 470.20,507.80 470.90,508.47 471.60,507.88 472.30,508.44 473.00,508.77 473.70,508.38 474.40,508.43 475.10,508.84 475.80,508.82 476.50,507.83 477.20,507.98 477.90,509.21 478.60,508.84 479.30,507.77 480.00,508.15 480.70,508.81 481.40,508.40 482.10,509.10 482.80,508.97 483.50,509.20 484.20,508.50 484.90,509.35 485.60,510.00 486.30,508.81 487.00,509.80 487.70,509.70 488.40,509.59 489.10,509.32 489.80,508.87 490.50,509.05 491.20,509.83 491.90,509.97 492.60,510.13 493.30,510.06 494.00,510.08 494.70,509.52 495.40,509.22 496.10,509.90 496.80,510.08 497.50,509.94 498.20,509.26 498.90,509.76 499.60,509.37 500.30,510.15 501.00,509.65 501.70,510.10 502.40,510.36 503.10,510.33 503.80,510.93 504.50,509.86 505.20,509.42 505.90,510.87 506.60,511.12 507.30,511.18 508.00,510.71 508.70,510.87 509.40,510.73 510.10,510.14 510.80,510.51 511.50,511.04 512.20,510.60 512.90,511.76 513.60,510.26 514.30,510.80 515.00,511.54 515.70,510.82 516.40,510.62 517.10,510.57 517.80,510.90 518.50,511.95 519.20,511.50 519.90,511.60 520.60,511.18 521.30,511.83 522.00,511.55 522.70,511.13 523.40,511.39 524.10,511.73 524.80,512.21 525.50,511.70 526.20,512.00 526.90,512.73 527.60,511.51 528.30,511.35 529.00,512.40 529.70,512.20 530.40,512.00 531.10,512.21 531.80,511.99 532.50,512.42 533.20,512.08 533.90,512.64 534.60,511.80 535.30,512.00 536.00,512.47 536.70,512.25 537.40,512.82 538.10,512.53 538.80,512.35 539.50,512.74 540.20,512.45 540.90,512.03 541.60,512.27 542.30,512.47 543.00,512.66 543.70,512.96 544.40,513.37 545.10,513.26 545.80,513.86 546.50,513.68 547.20,513.06 547.90,513.94 548.60,513.77 549.30,513.08 550.00,513.47 550.70,513.87 551.40,513.53 552.10,513.93 552.80,513.69 553.50,513.88 554.20,513.46 554.90,513.82 555.60,513.53 556.30,514.05 557.00,513.03 557.70,513.99" fill="none" stroke="#0b8a3f" stroke-width="2.6" stroke-linejoin="round" stroke-linecap="butt"/>
<line x1="427.1" y1="324.0" x2="427.1" y2="501.29924" stroke="#0b8a3f" stroke-width="2.7"/>
<polyline points="71.50,531.68 72.20,531.36 72.90,530.99 73.60,530.56 74.30,528.03 75.00,528.31 75.70,530.40 76.40,531.18 77.10,531.89 77.80,530.92 78.50,532.00 79.20,530.63 79.90,531.11 80.60,531.57 81.30,532.27 82.00,531.34 82.70,530.55 83.40,532.00 84.10,531.80 84.80,531.27 85.50,531.34 86.20,531.57 86.90,532.05 87.60,532.41 88.30,531.28 89.00,533.40 89.70,532.17 90.40,532.11 91.10,533.38 91.80,534.28 92.50,535.12 93.20,533.35 93.90,532.28 94.60,532.29 95.30,532.27 96.00,532.41 96.70,533.01 97.40,532.33 98.10,533.62 98.80,532.73 99.50,532.74 100.20,533.39 100.90,531.82 101.60,532.44 102.30,533.33 103.00,533.05 103.70,533.09 104.40,533.36 105.10,532.85 105.80,533.14 106.50,532.53 107.20,532.29 107.90,534.06 108.60,532.90 109.30,533.06 110.00,534.27 110.70,534.13 111.40,533.31 112.10,533.35 112.80,533.64 113.50,533.21 114.20,534.08 114.90,533.90 115.60,533.94 116.30,534.33 117.00,534.35 117.70,535.02 118.40,534.88 119.10,533.15 119.80,534.63 120.50,533.57 121.20,533.45 121.90,534.67 122.60,533.88 123.30,533.52 124.00,532.54 124.70,531.41 125.40,533.14 126.10,534.65 126.80,535.27 127.50,534.93 128.20,533.83 128.90,534.38 129.60,534.70 130.30,535.89 131.00,535.36 131.70,535.38 132.40,535.62 133.10,534.84 133.80,535.32 134.50,535.37 135.20,534.64 135.90,535.63 136.60,537.19 137.30,536.48 138.00,536.35 138.70,535.85 139.40,535.99 140.10,535.04 140.80,535.57 141.50,536.35 142.20,536.04 142.90,535.21 143.60,535.82 144.30,536.52 145.00,535.74 145.70,536.04 146.40,537.29 147.10,535.86 147.80,535.22 148.50,531.93 149.20,530.26 149.90,534.42 150.60,535.73 151.30,535.52 152.00,535.72 152.70,536.28 153.40,536.75 154.10,535.96 154.80,536.81 155.50,536.19 156.20,536.70 156.90,536.84 157.60,536.93 158.30,536.40 159.00,536.59 159.70,537.01 160.40,536.06 161.10,536.91 161.80,537.15 162.50,537.48 163.20,536.93 163.90,536.90 164.60,537.12 165.30,536.68 166.00,537.02 166.70,537.40 167.40,537.38 168.10,536.69 168.80,537.13 169.50,536.19 170.20,537.84 170.90,537.15 171.60,537.62 172.30,536.93 173.00,537.53 173.70,537.87 174.40,538.20 175.10,536.78 175.80,536.33 176.50,531.89 177.20,532.08 177.90,536.69 178.60,537.65 179.30,537.81 180.00,537.63 180.70,538.19 181.40,538.13 182.10,538.05 182.80,537.67 183.50,537.96 184.20,538.50 184.90,539.02 185.60,538.35 186.30,539.18 187.00,538.44 187.70,537.89 188.40,538.87 189.10,538.03 189.80,538.82 190.50,539.22 191.20,538.50 191.90,538.64 192.60,540.07 193.30,538.86 194.00,538.87 194.70,539.13 195.40,538.58 196.10,538.46 196.80,538.44 197.50,536.27 198.10,536.90 198.70,530.33 199.10,514.24 199.35,470.43 199.60,362.10 199.85,469.48 200.10,515.02 200.50,530.41 201.10,535.93 201.70,537.03 202.40,538.14 203.10,539.18 203.80,539.25 204.50,539.51 205.20,539.96 205.90,539.52 206.60,539.26 207.30,539.54 208.00,540.67 208.70,539.84 209.40,540.05 210.10,539.88 210.80,540.12 211.50,540.28 212.20,540.09 212.90,540.06 213.60,539.76 214.30,539.77 215.00,540.51 215.70,540.75 216.40,540.89 217.10,540.46 217.80,540.03 218.50,540.87 219.20,540.88 219.90,539.46 220.60,539.88 221.30,539.69 222.00,541.24 222.70,540.15 223.40,540.15 224.10,541.33 224.80,539.96 225.50,540.59 226.20,540.44 226.90,540.54 227.60,540.25 228.30,542.03 229.00,543.56 229.70,542.50 230.40,541.72 231.10,541.17 231.80,542.20 232.50,541.74 233.20,542.08 233.90,540.70 234.60,541.94 235.30,542.00 236.00,543.68 236.70,542.82 237.40,541.32 238.10,541.93 238.80,542.51 239.50,542.19 240.20,542.29 240.90,541.54 241.60,541.68 242.30,541.49 243.00,542.22 243.70,542.85 244.40,542.48 245.10,542.28 245.80,541.72 246.50,542.62 247.20,542.29 247.90,541.43 248.60,541.57 249.30,542.38 250.00,542.12 250.70,543.56 251.40,542.72 252.10,542.18 252.80,542.52 253.50,543.71 254.20,542.39 254.90,543.71 255.60,544.53 256.30,545.26 257.00,543.82 257.70,542.94 258.40,543.45 259.10,543.24 259.80,543.78 260.50,543.26 261.20,544.42 261.90,543.33 262.60,543.67 263.30,543.12 264.00,543.59 264.70,543.59 265.40,543.71 266.10,544.16 266.80,543.41 267.50,543.29 268.20,544.41 268.90,543.69 269.60,543.53 270.30,544.57 271.00,544.41 271.70,542.58 272.40,543.87 273.10,544.55 273.80,544.62 274.50,543.93 275.20,545.12 275.90,543.87 276.60,544.23 277.30,544.47 278.00,544.44 278.70,544.93 279.40,545.09 280.10,544.56 280.80,545.39 281.50,544.30 282.20,544.60 282.90,545.71 283.60,544.87 284.30,545.48 285.00,545.10 285.70,546.15 286.40,546.17 287.10,545.47 287.80,544.92 288.50,544.99 289.20,544.41 289.90,543.42 290.60,543.73 291.30,545.36 292.00,545.84 292.70,544.82 293.40,544.59 294.10,546.39 294.80,546.27 295.50,545.62 296.20,545.83 296.90,545.17 297.60,544.97 298.30,545.95 299.00,545.02 299.70,546.55 300.40,546.50 301.10,547.60 301.80,547.74 302.50,547.17 303.20,545.95 303.90,546.72 304.60,545.62 305.30,545.91 306.00,546.48 306.70,547.08 307.40,546.05 308.10,546.71 308.80,546.51 309.50,545.81 310.20,546.47 310.90,547.41 311.60,546.59 312.30,546.95 313.00,547.01 313.70,544.90 314.40,543.69 315.10,544.75 315.80,547.11 316.50,547.63 317.20,546.75 317.90,546.73 318.60,546.66 319.30,546.64 320.00,546.75 320.70,547.77 321.40,548.08 322.10,546.97 322.80,547.81 323.50,546.72 324.20,547.28 324.90,546.96 325.60,546.79 326.30,548.44 327.00,549.18 327.70,548.28 328.40,547.57 329.10,547.24 329.80,547.74 330.50,547.53 331.20,548.04 331.90,547.29 332.60,548.12 333.30,548.32 334.00,548.77 334.70,548.71 335.40,548.28 336.10,547.84 336.80,547.25 337.50,547.91 338.20,545.06 338.90,536.78 339.60,535.56 340.30,544.93 341.00,548.08 341.70,548.00 342.40,548.73 343.10,548.69 343.80,548.43 344.50,548.74 345.20,547.93 345.90,548.31 346.60,548.40 347.30,549.46 348.00,548.43 348.70,549.97 349.40,550.47 350.10,549.34 350.80,549.61 351.50,548.82 352.20,549.46 352.90,549.76 353.60,550.53 354.30,549.73 355.00,550.15 355.70,549.40 356.40,549.47 357.10,550.29 357.80,549.76 358.50,550.20 359.20,549.77 359.90,550.44 360.60,550.37 361.30,548.10 362.10,547.90 362.70,541.99 363.10,526.17 363.35,481.80 363.60,375.81 363.85,481.29 364.10,525.58 364.50,541.45 365.10,547.24 365.50,548.75 366.20,549.58 366.90,549.81 367.60,549.53 368.30,549.05 369.00,550.37 369.70,550.32 370.40,550.52 371.10,551.18 371.80,550.36 372.50,550.41 373.20,549.31 373.90,550.95 374.60,550.67 375.30,550.34 376.00,551.01 376.70,550.27 377.40,550.60 378.10,552.02 378.80,551.41 379.50,551.55 380.20,551.50 380.90,551.35 381.60,549.84 382.30,548.01 383.00,547.13 383.70,550.61 384.40,551.16 385.10,551.22 385.80,550.12 386.50,550.45 387.20,552.41 387.90,552.42 388.60,551.41 389.30,551.68 390.00,552.08 390.70,551.24 391.40,552.80 392.10,551.30 392.80,551.53 393.50,550.45 394.20,552.85 394.90,552.09 395.60,553.00 396.30,551.64 397.00,552.82 397.70,553.63 398.40,553.63 399.10,553.81 399.80,553.65 400.50,553.18 401.20,552.25 401.90,553.01 402.60,553.30 403.30,552.91 404.00,552.97 404.70,552.96 405.40,552.25 406.10,552.93 406.80,553.72 407.50,552.33 408.20,552.94 408.90,553.10 409.60,551.04 410.30,551.65 411.00,551.74 411.70,552.78 412.40,552.43 413.10,552.75 413.80,553.02 414.50,553.18 415.20,553.27 415.90,552.10 416.60,554.35 417.30,553.37 418.00,552.96 418.70,553.26 419.40,553.89 420.10,553.74 420.80,555.04 421.50,554.71 422.20,554.40 422.90,553.49 423.60,554.18 424.30,554.16 425.00,553.94 425.70,554.75 426.40,554.12 427.10,553.51 427.80,554.36 428.50,554.31 429.20,554.27 429.90,554.47 430.60,555.68 431.30,554.56 432.00,554.73 432.70,554.38 433.40,555.29 434.10,554.58 434.80,554.22 435.50,554.03 436.20,555.04 436.90,555.20 437.60,553.97 438.30,554.49 439.00,555.28 439.70,555.54 440.40,554.30 441.10,554.84 441.80,555.58 442.50,554.95 443.20,555.59 443.90,556.34 444.60,555.47 445.30,555.54 446.00,555.56 446.70,554.66 447.40,555.53 448.10,556.13 448.80,555.68 449.50,556.13 450.20,555.14 450.90,555.09 451.60,552.82 452.30,555.47 453.00,555.37 453.70,555.48 454.40,555.44 455.10,555.75 455.80,555.75 456.50,555.69 457.20,555.94 457.90,556.53 458.60,556.69 459.30,556.07 460.00,556.98 460.70,555.80 461.40,555.88 462.10,556.33 462.80,558.15 463.50,556.70 464.20,556.04 464.90,557.34 465.60,557.61 466.30,557.45 467.00,555.93 467.70,556.81 468.40,557.30 469.10,556.94 469.80,556.05 470.50,556.79 471.20,556.09 471.90,556.39 472.60,558.23 473.30,556.52 474.00,552.00 474.70,550.72 475.40,555.34 476.10,556.76 476.80,557.70 477.50,557.08 478.20,557.37 478.90,557.66 479.60,557.01 480.30,556.56 481.00,557.01 481.70,557.33 482.40,557.64 483.10,557.77 483.80,557.81 484.50,558.17 485.20,557.45 485.90,558.75 486.60,559.13 487.30,558.32 488.00,558.66 488.70,560.19 489.40,559.80 490.10,558.70 490.80,558.24 491.50,557.94 492.20,557.75 492.90,558.80 493.60,559.14" fill="none" stroke="#2f40a2" stroke-width="3.2" stroke-linejoin="round" stroke-linecap="butt"/>
<line x1="199.6" y1="360.5" x2="199.6" y2="535.32384" stroke="#2f40a2" stroke-width="3.3"/>
<line x1="363.6" y1="373.8" x2="363.6" y2="546.0166399999999" stroke="#2f40a2" stroke-width="3.3"/>
<path d="M59.5,396.2 L70.5,397.1 M59.5,441.7 L70.5,442.6 M59.5,487.2 L70.5,488.1" stroke="#000" stroke-width="2.6" fill="none"/>
<path d="M59.5,351.1 L70.5,351.3 L70.5,534.3 L507.5,562.9" stroke="#000" stroke-width="2.6" fill="none" stroke-linejoin="miter"/>
<circle cx="507.5" cy="562.9" r="1.3" fill="#000"/>
<circle cx="60.3" cy="534.3" r="0.6" fill="#555"/>
<path d="M200.5,544.2 L195.5,547.2 M364.5,555 L359.5,558" stroke="#000" stroke-width="2" fill="none"/>
<text x="49.2" y="356.2" font-size="14" text-anchor="end" fill="#111">1</text>
<text x="49.2" y="401.8" font-size="14" text-anchor="end" fill="#111">0.75</text>
<text x="49.2" y="447.3" font-size="14" text-anchor="end" fill="#111">0.5</text>
<text x="49.2" y="492.8" font-size="14" text-anchor="end" fill="#111">0.25</text>
<text x="49.2" y="538.5" font-size="14" text-anchor="end" fill="#111">0</text>
<text x="165" y="561.9" font-size="14" fill="#111">0 nm</text>
<text x="331" y="571.2" font-size="14" fill="#111">103 nm</text>
<text x="189" y="597.6" font-size="14" fill="#111">Variation of the cavity length</text>
<text transform="translate(13,484.5) rotate(-90)" font-size="14" fill="#111">Transmission</text>
<text x="-0.7" y="263" font-size="20" font-weight="bold" fill="#000">d</text>
<line x1="634" y1="458.00" x2="634" y2="475.60" stroke="#111" stroke-width="1.7"/>
<text transform="translate(638.60,472.21) skewX(-9)" style="font-family:&quot;Liberation Serif&quot;;font-style:italic" font-size="19" fill="#111" stroke="#111" stroke-width="0.15">&#8467;</text>
<text x="649.47" y="471.52" font-size="15" fill="#111" stroke="#111" stroke-width="0.35">=</text>
<text x="661.69" y="471.10" font-size="12.5" fill="#111" stroke="#111" stroke-width="0.35">+</text>
<text x="669.88" y="470.00" font-size="14.4" fill="#111">2</text>
<path d="M679.10,455.00 L680.50,455.00 L685.30,466.00 L681.20,477.40 L678.90,477.40 L683.45,466.00 Z" fill="#111"/>
<path d="M560,515.5 L572,515.5" stroke="#000" stroke-width="1.5"/>
<line x1="581.4" y1="510.90" x2="581.4" y2="528.50" stroke="#111" stroke-width="1.7"/>
<text transform="translate(586.00,525.11) skewX(-9)" style="font-family:&quot;Liberation Serif&quot;;font-style:italic" font-size="19" fill="#111" stroke="#111" stroke-width="0.15">&#8467;</text>
<text x="596.87" y="524.42" font-size="15" fill="#111" stroke="#111" stroke-width="0.35">=</text>
<text x="609.09" y="524.00" font-size="12.5" fill="#111" stroke="#111" stroke-width="0.35">+</text>
<path d="M623.20,522.90 L623.20,513.70 M623.50,514.00 L621.20,516.18" stroke="#111" stroke-width="1.4" fill="none"/>
<path d="M626.50,507.90 L627.90,507.90 L632.70,518.90 L628.60,530.30 L626.30,530.30 L630.85,518.90 Z" fill="#111"/>
<line x1="522.2" y1="555.20" x2="522.2" y2="572.80" stroke="#111" stroke-width="1.7"/>
<text transform="translate(526.80,569.41) skewX(-9)" style="font-family:&quot;Liberation Serif&quot;;font-style:italic" font-size="19" fill="#111" stroke="#111" stroke-width="0.15">&#8467;</text>
<text x="537.67" y="568.72" font-size="15" fill="#111" stroke="#111" stroke-width="0.35">=</text>
<text x="549.89" y="568.30" font-size="12.5" fill="#111" stroke="#111" stroke-width="0.35">+</text>
<path d="M564.00,567.20 L564.00,558.00 M564.30,558.30 L562.00,560.48" stroke="#111" stroke-width="1.4" fill="none"/>
<path d="M567.30,552.20 L568.70,552.20 L573.50,563.20 L569.40,574.60 L567.10,574.60 L571.65,563.20 Z" fill="#111"/>
<text x="581.4" y="568.2" font-size="12.6" fill="#111">&amp;</text>
<line x1="601.6" y1="554.90" x2="601.6" y2="572.50" stroke="#111" stroke-width="1.7"/>
<text transform="translate(606.20,569.11) skewX(-9)" style="font-family:&quot;Liberation Serif&quot;;font-style:italic" font-size="19" fill="#111" stroke="#111" stroke-width="0.15">&#8467;</text>
<text x="617.07" y="568.42" font-size="15" fill="#111" stroke="#111" stroke-width="0.35">=</text>
<text x="629.29" y="568.00" font-size="12.5" fill="#111" stroke="#111" stroke-width="0.35">+</text>
<text x="637.48" y="566.90" font-size="14.4" fill="#111">2</text>
<path d="M646.70,551.90 L648.10,551.90 L652.90,562.90 L648.80,574.30 L646.50,574.30 L651.05,562.90 Z" fill="#111"/>
</svg>
</body></html>
